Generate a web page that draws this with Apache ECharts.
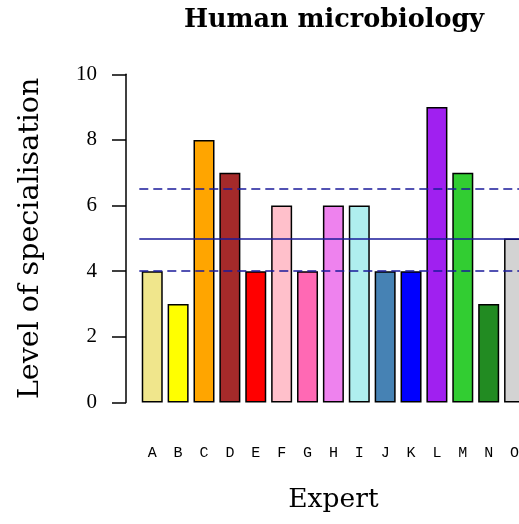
<!DOCTYPE html>
<html>
<head>
<meta charset="utf-8">
<script src="https://cdn.jsdelivr.net/npm/echarts@6/dist/echarts.min.js"></script>
<style>
html,body{margin:0;padding:0;background:#fff;}
#chart{width:519px;height:524px;}
</style>
</head>
<body>
<div id="chart"></div>
<script>
const experts = ['A','B','C','D','E','F','G','H','I','J','K','L','M','N','O'];
const levels = [4, 3, 8, 7, 4, 6, 4, 6, 6, 4, 4, 9, 7, 3, 5];
const barColors = ['#F0E68C','#FFFF00','#FFA500','#A52A2A','#FF0000','#FFC0CB','#FF69B4','#EE82EE','#AFEEEE','#4682B4','#0000FF','#A020F0','#32CD32','#228B22','#D3D3D3'];
const meanLevel = [5];
const bandLevels = [4, 6.5];
const yTicks = [0, 2, 4, 6, 8, 10];

const chart = echarts.init(document.getElementById('chart'), null, {renderer:'canvas'});
chart.setOption({
  animation: false,
  backgroundColor: '#ffffff',
  title: {
    text: 'Human microbiology',
    left: 329,
    top: 2,
    textAlign: 'center',
    textStyle: {fontFamily: 'DejaVu Serif', fontWeight: 'bold', fontSize: 25.5, color: '#000'}
  },
  grid: {left: 139.3, width: 388.2, top: 74.3, height: 328.2, containLabel: false, outerBoundsMode: 'none'},
  xAxis: {
    type: 'category',
    data: experts,
    axisLine: {show: false},
    axisTick: {show: false},
    axisLabel: {margin: 43, fontFamily: 'Liberation Mono', fontSize: 15, color: '#000'},
    name: 'Expert',
    nameLocation: 'middle',
    nameGap: 84,
    nameTextStyle: {fontFamily: 'DejaVu Serif', fontSize: 26.5, color: '#000'}
  },
  yAxis: {
    type: 'value',
    min: yTicks[0],
    max: yTicks[yTicks.length - 1],
    interval: 2,
    offset: 13.3,
    splitLine: {show: false},
    axisLine: {show: true, lineStyle: {color: '#000', width: 1.5}},
    axisTick: {show: true, length: 14, lineStyle: {color: '#000', width: 1.5}},
    axisLabel: {margin: 29, fontFamily: 'Liberation Serif', fontSize: 21, color: '#000'},
    name: 'Level of specialisation',
    nameLocation: 'middle',
    nameGap: 81,
    nameTextStyle: {fontFamily: 'DejaVu Serif', fontSize: 28.5, color: '#000'}
  },
  series: [{
    type: 'bar',
    data: levels.map((v, i) => ({value: v, itemStyle: {color: barColors[i]}})),
    barWidth: 21,
    itemStyle: {borderColor: '#000', borderWidth: 1.5},
    markLine: {
      silent: true,
      symbol: 'none',
      label: {show: false},
      data: [
        {yAxis: meanLevel[0], lineStyle: {color: '#1a1a9a', width: 1.5, type: 'solid'}},
        {yAxis: bandLevels[0], lineStyle: {color: '#1a1a9a', width: 1.5, type: [9, 5]}},
        {yAxis: bandLevels[1], lineStyle: {color: '#1a1a9a', width: 1.5, type: [9, 5]}}
      ]
    }
  }]
});
</script>
</body>
</html>
